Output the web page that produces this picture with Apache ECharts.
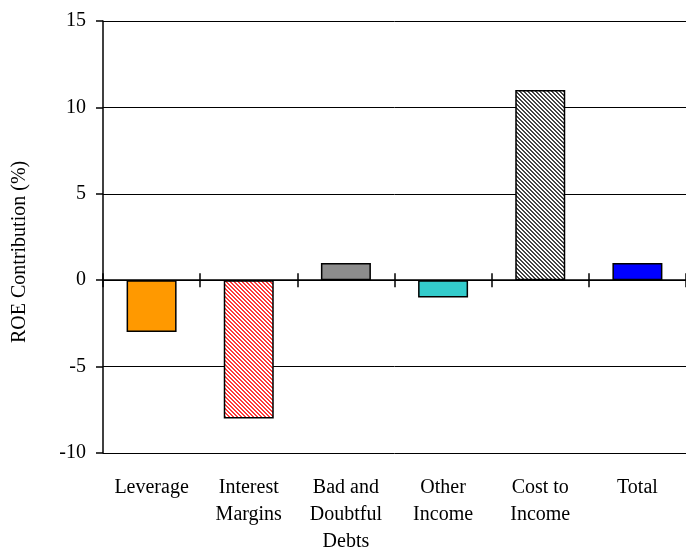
<!DOCTYPE html>
<html>
<head>
<meta charset="utf-8">
<script src="https://cdn.jsdelivr.net/npm/echarts@6/dist/echarts.min.js"></script>
<style>
  html, body { margin: 0; padding: 0; background: #fff; }
  #chart { width: 686px; height: 548px; }
</style>
</head>
<body>
<div id="chart"></div>
<script>
// ROE contribution by driver (%)
const categories = ['Leverage', 'Interest\nMargins', 'Bad and\nDoubtful\nDebts', 'Other\nIncome', 'Cost to\nIncome', 'Total'];
const contributions = [-3, -8, 1, -1, 11, 1];
const yTicks = { min: -10, max: 15, interval: 5 };
const axisTitle = 'ROE Contribution (%)';

// Diagonal hatch fills
function hatch(color, bg, period, on) {
  const c = document.createElement('canvas');
  c.width = period; c.height = period;
  const ctx = c.getContext('2d');
  ctx.fillStyle = bg;
  ctx.fillRect(0, 0, period, period);
  ctx.fillStyle = color;
  for (let y = 0; y < period; y++) {
    for (let x = 0; x < period; x++) {
      if (((x - y) % period + period) % period < on) ctx.fillRect(x, y, 1, 1);
    }
  }
  return { image: c, repeat: 'repeat' };
}

const fills = [
  '#FF9900',
  hatch('#FF3838', '#FFFFFF', 4, 2),
  '#8C8C8C',
  '#33CCCC',
  hatch('#444444', '#FFFFFF', 4, 2),
  '#0000FF'
];

const font = '"Liberation Serif", "Times New Roman", serif';
const gridBox = { left: 103, right: 0, top: 21, bottom: 95, containLabel: false, outerBoundsMode: 'none' };
const yRange = { type: 'value', min: yTicks.min, max: yTicks.max, interval: yTicks.interval };
const hiddenY = (g) => Object.assign({}, yRange, { gridIndex: g, show: false, splitLine: { show: false } });

const chart = echarts.init(document.getElementById('chart'), null, { renderer: 'canvas' });

chart.setOption({
  animation: false,
  backgroundColor: '#fff',
  // three overlaid grids: main plot, zero axis with downward ticks, zero axis with upward ticks
  grid: [gridBox, gridBox, gridBox],
  xAxis: [
    {
      gridIndex: 0, type: 'category', data: categories, position: 'bottom',
      axisLine: { show: false, onZero: false }, axisTick: { show: false },
      axisLabel: { fontFamily: font, fontSize: 20, color: '#000', margin: 21, lineHeight: 27, interval: 0 }
    },
    {
      gridIndex: 1, type: 'category', data: categories, position: 'bottom',
      axisLine: { show: true, onZero: true, lineStyle: { color: '#000', width: 1.5 } },
      axisTick: { show: true, inside: false, length: 7, lineStyle: { color: '#000', width: 1.5 } },
      axisLabel: { show: false }
    },
    {
      gridIndex: 2, type: 'category', data: categories, position: 'bottom',
      axisLine: { show: false, onZero: true },
      axisTick: { show: true, inside: true, length: 7, lineStyle: { color: '#000', width: 1.5 } },
      axisLabel: { show: false }
    }
  ],
  yAxis: [
    Object.assign({}, yRange, {
      gridIndex: 0,
      axisLine: { show: true, lineStyle: { color: '#000', width: 1.5 } },
      axisTick: { show: true, length: 7, lineStyle: { color: '#000', width: 1.5 } },
      axisLabel: { fontFamily: font, fontSize: 20, color: '#000', margin: 17 },
      splitLine: { show: true, lineStyle: { color: '#000', width: 1 } }
    }),
    hiddenY(1),
    hiddenY(2)
  ],
  graphic: [{
    type: 'text', rotation: Math.PI / 2, x: 10, y: 343,
    style: { text: axisTitle, font: '20px ' + font, fill: '#000' }
  }],
  series: [{
    type: 'bar', xAxisIndex: 0, yAxisIndex: 0, barWidth: 50,
    data: contributions.map((v, i) => ({ value: v, itemStyle: { color: fills[i] } })),
    itemStyle: { borderColor: '#000', borderWidth: 1.5 }
  }]
});
</script>
</body>
</html>
